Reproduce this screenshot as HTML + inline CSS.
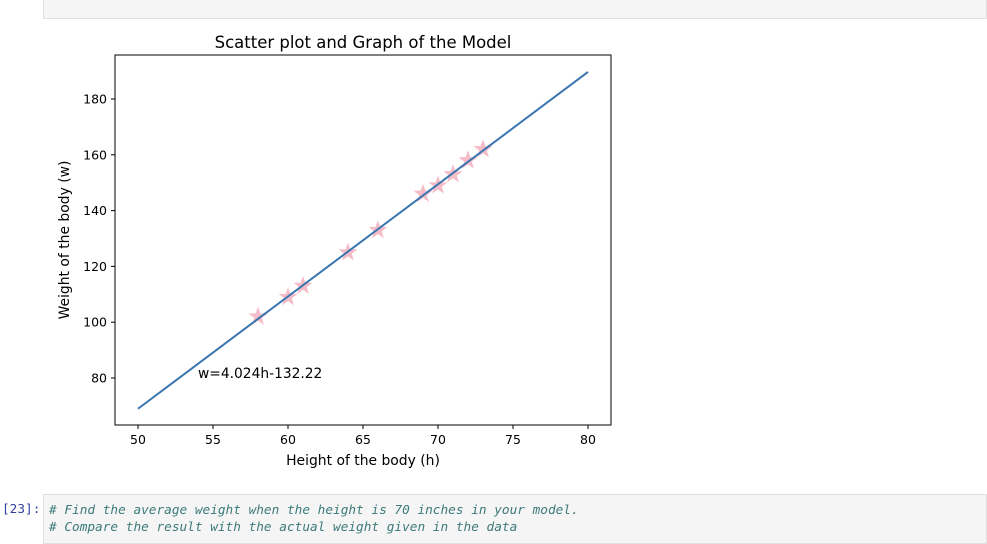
<!DOCTYPE html>
<html><head><meta charset="utf-8"><style>
body{margin:0;width:987px;height:537px;background:#fff;overflow:hidden;position:relative;font-family:"DejaVu Sans","Liberation Sans",sans-serif}
.cell{position:absolute;left:43px;right:0;background:#f5f5f5;border:1px solid #e0e0e0}
.code{font-family:"DejaVu Sans Mono","Liberation Mono",monospace;font-size:12.75px;font-style:italic;color:#3d7a7a;line-height:17px}
</style></head><body>
<div class="cell" style="top:-1px;height:18px"></div>
<svg width="987" height="537" style="position:absolute;left:0;top:0;font-family:'DejaVu Sans',sans-serif">
<g id="g"></g>
</svg>
<div style="position:absolute;left:2px;top:502px;font-family:'DejaVu Sans Mono',monospace;font-size:12.75px;color:#303f9f">[23]:</div>
<div class="cell code" style="top:494px;height:50px;padding:7px 0 0 5px;box-sizing:border-box">
<div># Find the average weight when the height is 70 inches in your model.</div>
<div># Compare the result with the actual weight given in the data</div>
</div>
<script>
const heights=[58,60,61,64,66,69,70,71,72,73];
const weights=[102,109,113,125,133,146,149,153,158,162];
const xTicks=[50,55,60,65,70,75,80];
const yTicks=[80,100,120,140,160,180];
const slope=4.024, intercept=-132.22;
const lineX=[50,80];
const L=115,R=611,T=55,B=425;
const sx=v=>138+(v-50)*15;
const sy=v=>378-(v-80)*2.79;
const g=document.getElementById('g');
const NS='http://www.w3.org/2000/svg';
function mk(t,a,txt){const e=document.createElementNS(NS,t);for(const k in a)e.setAttribute(k,a[k]);if(txt!==undefined)e.textContent=txt;g.appendChild(e);return e;}
function star(cx,cy,r){let p=[];for(let i=0;i<10;i++){const rr=i%2?r*0.4:r;const a=-Math.PI/2+i*Math.PI/5;p.push((cx+rr*Math.cos(a)).toFixed(1)+','+(cy+rr*Math.sin(a)).toFixed(1));}return p.join(' ');}
heights.forEach((h,i)=>{
 const s=mk('polygon',{points:star(sx(h),sy(weights[i]),10),fill:'#f4b6c2',opacity:0.9});
 
 
});
const ln=mk('line',{x1:sx(lineX[0]),y1:sy(slope*lineX[0]+intercept),x2:sx(lineX[1]),y2:sy(slope*lineX[1]+intercept),stroke:'#3a75b0','stroke-width':2});


const fr=mk('rect',{x:L,y:T,width:R-L,height:B-T,fill:'none',stroke:'#000','stroke-width':1});


xTicks.forEach(v=>{
 mk('line',{x1:sx(v),x2:sx(v),y1:B,y2:B+4,stroke:'#000'});
 const t=mk('text',{x:sx(v),y:B+19,'text-anchor':'middle','font-size':12.5},v);
 
 
});
yTicks.forEach(v=>{
 mk('line',{x1:L-4,x2:L,y1:sy(v),y2:sy(v),stroke:'#000'});
 const t=mk('text',{x:L-8,y:sy(v)+4.5,'text-anchor':'end','font-size':12.5},v);
 
 
});
let t=mk('text',{x:363,y:48,'text-anchor':'middle','font-size':16.5},'Scatter plot and Graph of the Model');

t=mk('text',{x:363,y:465,'text-anchor':'middle','font-size':13.9},'Height of the body (h)');

t=mk('text',{x:0,y:0,'text-anchor':'middle','font-size':13.9,transform:'translate(69,240) rotate(-90)'},'Weight of the body (w)');

t=mk('text',{x:198,y:378,'font-size':13.8},'w=4.024h-132.22');

</script>
</body></html>
